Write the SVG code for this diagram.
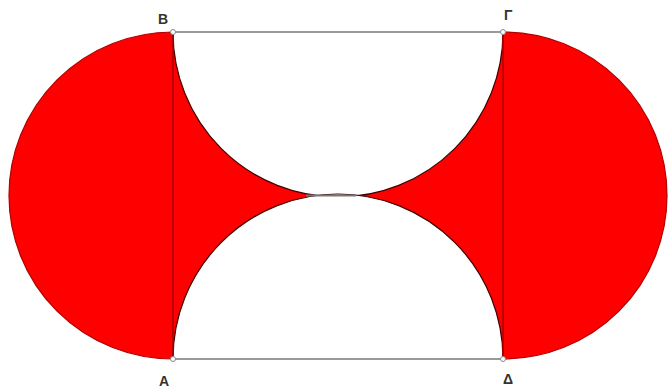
<svg xmlns="http://www.w3.org/2000/svg" width="669" height="391" viewBox="0 0 669 391">
<style>
.red{fill:#ff0000;stroke:#b00000;stroke-width:1.2}
.hole{fill:#ffffff;stroke:#400000;stroke-width:1.2}
.edge{stroke:#9a9a9a;stroke-width:2;fill:none}
.pt{fill:#ffffff;stroke:#888;stroke-width:1}
.lbl{font-family:"Liberation Sans",Arial,sans-serif;font-weight:bold;font-size:14px;fill:#333}
</style>
<rect width="669" height="391" fill="#ffffff"/>
<g id="shape">
<path class="red" d="M173,32 A164,163.5 0 0 0 173,359 Z"/>
<path class="red" d="M503,32 A164,163.5 0 0 1 503,359 Z"/>
<rect x="173" y="32" width="330" height="327" fill="#ff0000"/>
<path class="hole" d="M173,32 A165,165 0 0 0 503,32 Z"/>
<path class="hole" d="M173,359 A165,165 0 0 1 503,359 Z"/>
<line x1="173" y1="32" x2="173" y2="359" stroke="#b00000" stroke-width="1.5"/>
<line x1="503" y1="32" x2="503" y2="359" stroke="#b00000" stroke-width="1.5"/>
</g>
<g id="edges">
<line class="edge" x1="173" y1="32" x2="503" y2="32"/>
<line class="edge" x1="173" y1="359" x2="503" y2="359"/>
<line x1="306" y1="195.5" x2="356" y2="195.5" stroke="#777" stroke-width="2"/>
</g>
<g id="points">
<circle class="pt" cx="173" cy="32" r="2.5"/>
<circle class="pt" cx="503" cy="32" r="2.5"/>
<circle class="pt" cx="173" cy="359" r="2.5"/>
<circle class="pt" cx="503" cy="359" r="2.5"/>
</g>
<g id="labels">
<text class="lbl" x="158" y="24">Β</text>
<text class="lbl" x="504" y="20">Γ</text>
<text class="lbl" x="159" y="386">Α</text>
<text class="lbl" x="503" y="384">Δ</text>
</g>
</svg>
